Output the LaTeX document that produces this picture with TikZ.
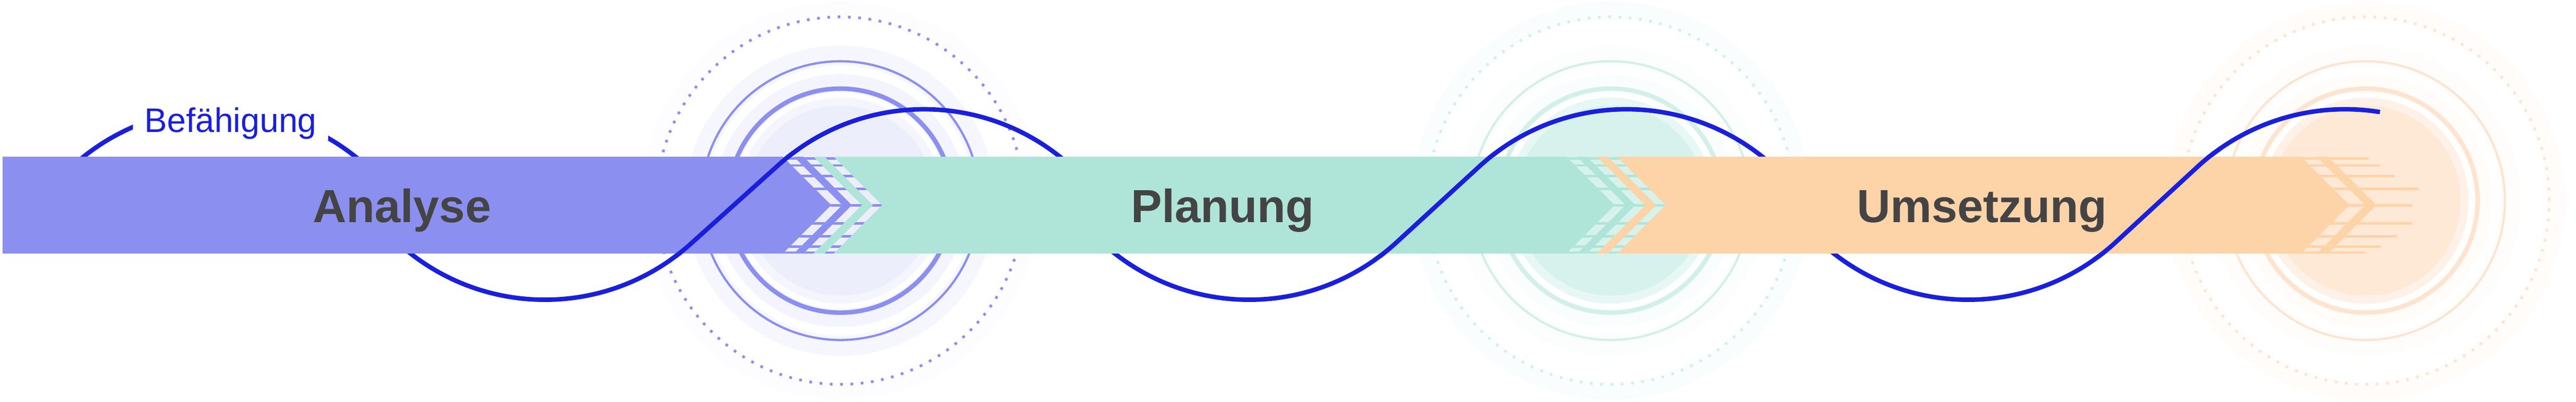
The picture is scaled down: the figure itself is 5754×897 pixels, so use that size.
\documentclass[tikz,border=0pt]{standalone}
\usepackage{fontspec}
\setmainfont{Liberation Sans}
\usetikzlibrary{positioning}

\definecolor{lilac}{RGB}{139,143,239}
\definecolor{lilacpale}{RGB}{237,238,252}
\definecolor{mint}{RGB}{174,229,216}
\definecolor{mintring}{RGB}{210,240,232}
\definecolor{mintpale}{RGB}{215,242,236}
\definecolor{peach}{RGB}{253,211,168}
\definecolor{peachring}{RGB}{254,228,207}
\definecolor{peachpale}{RGB}{254,232,214}
\definecolor{waveblue}{RGB}{26,31,220}
\definecolor{labelgray}{RGB}{68,68,68}

\tikzstyle{phase} = [anchor=base, inner sep=0pt, text=labelgray, font=\fontsize{29.5}{35}\selectfont\bfseries]
\tikzstyle{tag} = [anchor=base, fill=white, inner xsep=0.26cm, inner ysep=0.02cm, text=waveblue, font=\fontsize{21.6}{26}\selectfont]
\tikzstyle{wave} = [draw=waveblue, line width=0.1cm]
\tikzstyle{dotring} = [line width=0.06cm, dash pattern=on 0.06cm off 0.17cm]
\tikzstyle{hatch} = [line width=0.055cm]

% chevron stripe: {x at band top}{from}{to}
\newcommand{\chevstripe}[3]{({#1+(#2)},547) -- ({#1+(#3)},547) -- ({#1+(#3)+108},439) -- ({#1+(#3)},331) -- ({#1+(#2)},331) -- ({#1+(#2)+108},439) -- cycle}

% blue wave: arcs of radius 487 joined by tangents
\newcommand{\wavepath}{(155.5,520) arc[start angle=133.4, end angle=46.6, radius=4.87cm]
  -- (885.4,358) arc[start angle=227.1, end angle=311.83, radius=4.87cm]
  -- (1739.1,528.8) arc[start angle=131.83, end angle=46.6, radius=4.87cm]
  -- (2458.4,358) arc[start angle=227.1, end angle=312.4, radius=4.87cm]
  -- (3304.6,525.6) arc[start angle=132.4, end angle=46.6, radius=4.87cm]
  -- (4064.4,358) arc[start angle=227.1, end angle=312.57, radius=4.87cm]
  -- (4908.5,524.6) arc[start angle=132.57, end angle=80.8, radius=4.87cm]}

% hatched hand-over between two bands
\newcommand{\handover}[3]{
  \fill[#3] \chevstripe{#1}{-68}{-44} \chevstripe{#1}{-22}{0} \chevstripe{#1}{25}{45};
  \begin{scope}
    \clip \chevstripe{#1}{-68}{-44} \chevstripe{#1}{-22}{0} \chevstripe{#1}{25}{45};
    \foreach \hy in {543.5,527.5,504,475,438.5,398,369,346,333}
      \draw[hatch, #2] ({#1-90},\hy) -- ({#1+170},\hy);
  \end{scope}}

\begin{document}
\begin{tikzpicture}[x=0.01cm, y=0.01cm]
		\useasboundingbox (0,0) rectangle (5754,897);

		% rings
		\foreach \cx/\rc/\dc in {1877/lilac/lilacpale, 3598/mintring/mintpale, 5284/peachring/peachpale}{
			\draw[\dc, opacity=0.12, line width=0.4cm] (\cx,449) circle[radius=4.25cm];
			\draw[\rc, dotring] (\cx,449) circle[radius=4.1cm];
			\draw[\rc, opacity=0.08, line width=0.45cm] (\cx,449) circle[radius=3.24cm];
			\draw[\rc, line width=0.05cm] (\cx,449) circle[radius=3.11cm];
			\draw[\rc, opacity=0.1, line width=0.4cm] (\cx,449) circle[radius=2.62cm];
			\draw[\rc, line width=0.1cm] (\cx,449) circle[radius=2.5cm];
			\fill[\dc!60!white] (\cx,449) circle[radius=2.3cm];
			\fill[\dc] (\cx,449) circle[radius=2.12cm];
		}

		\draw[wave] \wavepath;

		% bands
		\fill[lilac] (6,331) -- (6,547) -- (1817,547) -- (1925,439) -- (1817,331) -- cycle;
		\fill[mint] (1817,547) -- (1925,439) -- (1817,331) -- (3567,331) -- (3675,439) -- (3567,547) -- cycle;
		\fill[peach] (3567,547) -- (3675,439) -- (3567,331) -- (5140,331) -- (5248,439) -- (5140,547) -- cycle;
		\handover{1817}{lilac}{lilacpale}
		\handover{3567}{mint}{mintpale}
		\fill[peach] \chevstripe{5175}{0}{25};
		\foreach \hy/\hx in {543.5/5290, 527.5/5315, 504/5349, 475/5403, 438.5/5388, 398/5388, 369/5354, 346/5318, 333/5283}
			\draw[hatch, peach] (5120,\hy) -- (\hx,\hy);

		% wave on top where it rises
		\begin{scope}
			\clip (1480,320) rectangle (1800,560) (3050,320) rectangle (3370,560) (4660,320) rectangle (4970,560);
			\draw[wave] \wavepath;
		\end{scope}

		\node (analyse) [phase] at (898,400) {Analyse};
		\node (planung) [phase] at (2731,400) {Planung};
		\node (umsetzung) [phase] at (4427,400) {Umsetzung};
		\node (befaehigung) [tag] at (515,602) {Befähigung};
\end{tikzpicture}
\end{document}
